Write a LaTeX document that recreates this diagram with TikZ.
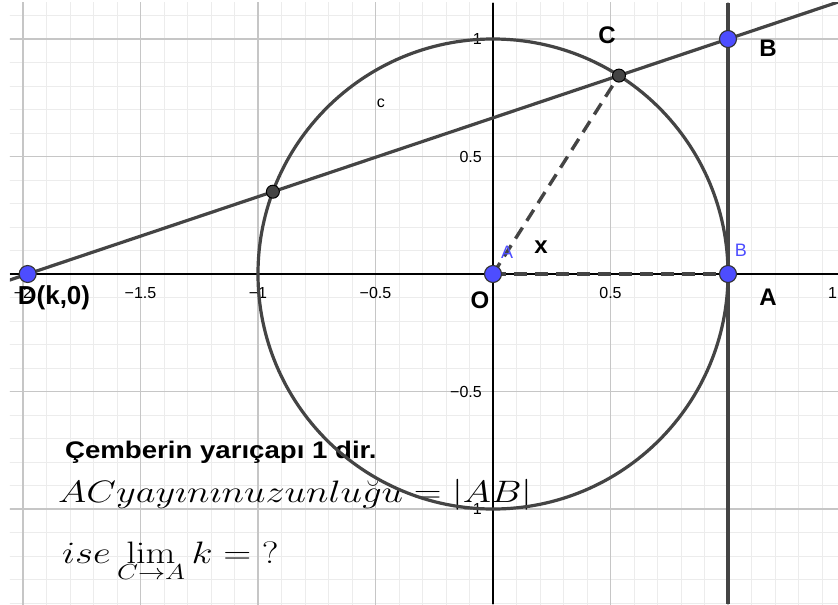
\RequirePackage{fix-cm}
\documentclass[tikz,border=0pt]{standalone}
\usepackage[no-math]{fontspec}
\setmainfont{Liberation Sans}
\usetikzlibrary{calc}
\definecolor{ggblue}{RGB}{77,77,255}
\definecolor{ggdark}{RGB}{68,68,68}
\definecolor{gridmin}{RGB}{236,236,236}
\definecolor{gridmaj}{RGB}{198,198,198}
\begin{document}
\begin{tikzpicture}[x=235pt,y=235pt,
  minorgrid/.style={draw=gridmin, line width=0.9pt},
  majorgrid/.style={draw=gridmaj, line width=1.3pt},
  axisline/.style={draw=black, line width=1.3pt},
  thickline/.style={draw=ggdark, line width=3.2pt},
  dashline/.style={draw=ggdark, line width=3.4pt, dash pattern=on 13pt off 8pt},
  bluept/.style={circle, fill=ggblue, draw=black!80, line width=1.1pt, minimum size=17pt, inner sep=0pt},
  darkpt/.style={circle, fill=ggdark, draw=black, line width=1pt, minimum size=13pt, inner sep=0pt},
  ticklab/.style={font=\fontsize{16}{18}\selectfont, inner sep=0pt},
  biglab/.style={font=\fontsize{24}{28}\selectfont\bfseries, inner sep=0pt},
  bluelab/.style={font=\fontsize{18}{20}\selectfont, text=ggblue, inner sep=0pt},
  textlab/.style={inner sep=0pt, anchor=base west}
]
\useasboundingbox[fill=white] (-2.09787,-1.40426) rectangle (1.46809,1.16596);
\coordinate (D) at (-1.98,0);
\coordinate (B) at (1,1);
\coordinate (O) at (0,0);
\coordinate (A) at (1,0);
\coordinate (C) at (0.5361,0.8443);
\coordinate (E) at (-0.9367,0.3501);
\coordinate (ytop) at (0,1.1532);
\coordinate (ybot) at (0,-1.40426);
\coordinate (xl) at (-2.0553,0);
\coordinate (xr) at (1.46809,0);
\coordinate (vtop) at (1,1.1532);
\coordinate (vbot) at (1,-1.40426);
\begin{scope}
\clip (-2.0553,-1.40426) rectangle (1.46809,1.1532);
\draw[minorgrid] (-2.2,-1.5) grid[step=0.1] (1.6,1.3);
\draw[majorgrid] (-2.5,-1.5) grid[step=0.5] (1.6,1.3);
\draw[axisline] (xl) -- (xr);
\draw[axisline] (ytop) -- (ybot);
\end{scope}
% tick labels
\node[ticklab] (tm2) at (-2,-0.0809) {−2};
\node[ticklab] (tm15) at (-1.5,-0.0809) {−1.5};
\node[ticklab] (tm1) at (-1,-0.0809) {−1};
\node[ticklab] (tm05) at (-0.5,-0.0809) {−0.5};
\node[ticklab] (tp05) at (0.5,-0.0809) {0.5};
\node[ticklab, anchor=west] (tp15) at (1.4255,-0.0809) {1};
\node[ticklab, anchor=east] (ty1) at (-0.047,1) {1};
\node[ticklab, anchor=east] (ty05) at (-0.047,0.5) {0.5};
\node[ticklab, anchor=east] (tym05) at (-0.047,-0.5) {−0.5};
\node[ticklab, anchor=east] (tym1) at (-0.047,-1) {−1};
% text block
\node[textlab, font=\fontsize{24}{28}\selectfont\bfseries] (t1) at (-1.8213,-0.7830) {\scalebox{1.15}[1]{Çemberin yarıçapı 1 dir.}};
\node[textlab, font=\fontsize{31}{34}\selectfont] (t2) at (-1.8511,-0.9702) {\scalebox{1.24}[1]{$AC yay\imath n\imath nuzunlu\breve{g}u = |AB|$}};
\node[textlab, font=\fontsize{31}{34}\selectfont] (t3) at (-1.8340,-1.2298) {\scalebox{1.25}[1]{$ise\displaystyle\lim_{C\to A}k = {?}$}};
\begin{scope}
\clip (-2.0553,-1.40426) rectangle (1.46809,1.1532);
\draw[thickline] (O) circle[radius=1];
\draw[thickline] ($(D)!-0.1!(B)$) -- ($(D)!1.3!(B)$);
\draw[thickline] (vtop) -- (vbot);
\end{scope}
\draw[dashline] (O) -- (C);
\draw[dashline] (O) -- (A);
% points
\node[bluept] (pD) at (D) {};
\node[bluept] (pO) at (O) {};
\node[bluept] (pA) at (A) {};
\node[bluept] (pB) at (B) {};
\node[darkpt] (pC) at (C) {};
\node[darkpt] (pE) at (E) {};
% labels
\node[biglab] (lC) at (0.4851,1.0170) {C};
\node[biglab] (lB) at (1.1702,0.9617) {B};
\node[biglab] (lA) at (1.1702,-0.0979) {A};
\node[biglab] (lO) at (-0.0553,-0.1106) {O};
\node[biglab] (lx) at (0.2043,0.1149) {x};
\node[biglab, font=\fontsize{26}{30}\selectfont\bfseries] (lD) at (-1.8681,-0.1021) {D(k,0)};
\node[bluelab] (bA) at (0.0596,0.0936) {A};
\node[bluelab] (bB) at (1.0553,0.1021) {B};
\node[font=\fontsize{16}{18}\selectfont, inner sep=0pt] (lc) at (-0.4766,0.7277) {c};
\end{tikzpicture}
\end{document}
